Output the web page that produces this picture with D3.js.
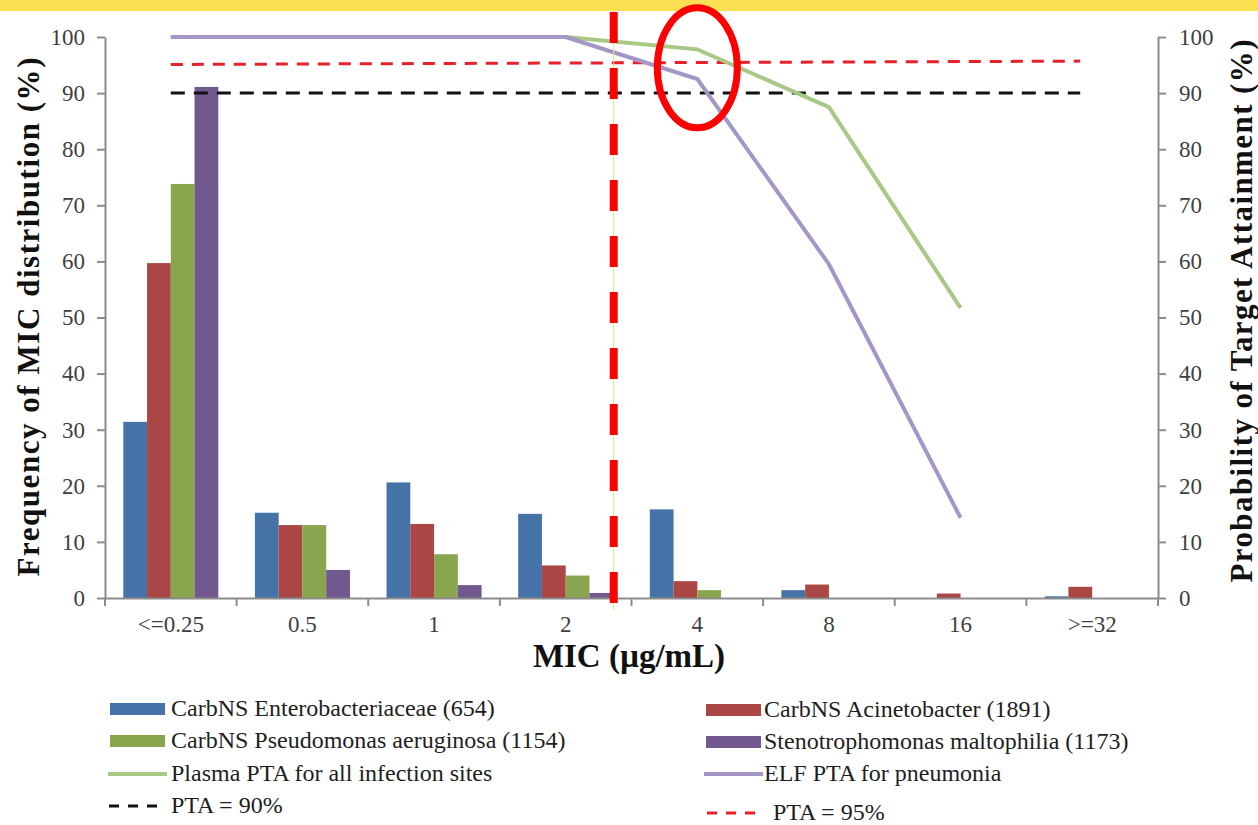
<!DOCTYPE html>
<html>
<head>
<meta charset="utf-8">
<script src="https://cdn.jsdelivr.net/npm/d3@7"></script>
<style>
  body { margin: 0; background: #fff; }
  svg { display: block; font-family: "Liberation Serif", "Times New Roman", serif; }
</style>
</head>
<body>
<svg id="chart" width="1258" height="825"></svg>
<script>
const categories = ["<=0.25", "0.5", "1", "2", "4", "8", "16", ">=32"];
const enterobacteriaceae = [31.4, 15.2, 20.6, 15.0, 15.8, 1.4, 0, 0.3];
const acinetobacter = [59.7, 13.0, 13.2, 5.8, 3.0, 2.4, 0.8, 2.0];
const pseudomonas = [73.8, 13.0, 7.8, 4.0, 1.4, 0, 0, 0];
const stenotrophomonas = [91.1, 5.0, 2.3, 0.9, 0, 0, 0, 0];
// PTA curves stop at 16
const plasmaPTA = [100, 100, 100, 100, 97.8, 87.5, 51.7];
const elfPTA = [100, 100, 100, 100, 92.5, 59.5, 14.3];
const pta90 = [90, 90];
const pta95 = [95.1, 95.7];
const yTicks = [0, 10, 20, 30, 40, 50, 60, 70, 80, 90, 100];

const barSeries = [
  { name: "CarbNS Enterobacteriaceae (654)", values: enterobacteriaceae, color: "#4572A7" },
  { name: "CarbNS Acinetobacter (1891)", values: acinetobacter, color: "#AA4643" },
  { name: "CarbNS Pseudomonas aeruginosa (1154)", values: pseudomonas, color: "#89A54E" },
  { name: "Stenotrophomonas maltophilia (1173)", values: stenotrophomonas, color: "#71588F" }
];

const svg = d3.select("#chart");
const plotLeft = 105, plotRight = 1158, plotTop = 37, plotBottom = 598;
const serif = "Liberation Serif, Times New Roman, serif";

// yellow strip along the top
svg.append("rect").attr("x", 0).attr("y", 0).attr("width", 1258).attr("height", 11).attr("fill", "#FBE052");

const x = d3.scaleBand().domain(categories).range([plotLeft, plotRight]).paddingInner(0).paddingOuter(0);
const xs = d3.scaleBand().domain(d3.range(barSeries.length)).range([0, x.bandwidth()]).paddingOuter(0.77).paddingInner(0);
const y = d3.scaleLinear().domain([0, 100]).range([plotBottom, plotTop]);
const cx = c => x(c) + x.bandwidth() / 2;

// bars
barSeries.forEach((s, i) => {
  svg.append("g").selectAll("rect")
    .data(s.values)
    .join("rect")
    .attr("x", (d, j) => x(categories[j]) + xs(i))
    .attr("width", xs.bandwidth())
    .attr("y", d => y(d))
    .attr("height", d => plotBottom - y(d))
    .attr("fill", s.color);
});

// axes
const axisColor = "#8C8C8C";
const tickColor = "#3F3F3F";
const gl = svg.append("g").attr("transform", `translate(${plotLeft},0)`)
  .call(d3.axisLeft(y).tickValues(yTicks).tickSize(8).tickSizeOuter(0).tickPadding(12));
const gr = svg.append("g").attr("transform", `translate(${plotRight},0)`)
  .call(d3.axisRight(y).tickValues(yTicks).tickSize(8).tickSizeOuter(0).tickPadding(13));
const gx = svg.append("g").attr("transform", `translate(0,${plotBottom})`)
  .call(d3.axisBottom(x).tickSize(0).tickPadding(18));
gx.selectAll(".tick line").remove();
gx.append("g").selectAll("line")
  .data(categories.concat(["end"]))
  .join("line")
  .attr("x1", (d, i) => i < categories.length ? x(d) : plotRight)
  .attr("x2", (d, i) => i < categories.length ? x(d) : plotRight)
  .attr("y1", 0).attr("y2", 8)
  .attr("stroke", axisColor).attr("stroke-width", 2);
[gl, gr, gx].forEach(g => {
  g.select(".domain").attr("stroke", axisColor).attr("stroke-width", 2);
  g.selectAll(".tick line").attr("stroke", axisColor).attr("stroke-width", 2);
  g.selectAll("text").attr("font-family", serif).attr("font-size", 23).attr("fill", tickColor);
});
gr.selectAll(".tick text").attr("text-anchor", "start");

// threshold lines
const thrX0 = cx(categories[0]);
const thrX1 = cx(categories[7]) - 12;
const thrLine = d3.line().x((d, i) => i === 0 ? thrX0 : thrX1).y(d => y(d));
svg.append("path").datum(pta95).attr("d", thrLine)
  .attr("fill", "none").attr("stroke", "#E8202A").attr("stroke-width", 3).attr("stroke-dasharray", "12,9");
svg.append("path").datum(pta90).attr("d", thrLine)
  .attr("fill", "none").attr("stroke", "#111").attr("stroke-width", 3).attr("stroke-dasharray", "14,9");

// PTA curves
const curve = d3.line().x((d, i) => cx(categories[i])).y(d => y(d));
svg.append("path").datum(plasmaPTA).attr("d", curve)
  .attr("fill", "none").attr("stroke", "#A8C886").attr("stroke-width", 4);
svg.append("path").datum(elfPTA).attr("d", curve)
  .attr("fill", "none").attr("stroke", "#A496C6").attr("stroke-width", 4);

// breakpoint marker
const bpX = x(categories[3]) + 0.865 * x.step();
svg.append("line").attr("x1", bpX).attr("x2", bpX).attr("y1", 11).attr("y2", 610)
  .attr("stroke", "#F6DC7E").attr("stroke-width", 1);
svg.append("line").attr("x1", bpX).attr("x2", bpX).attr("y1", 12).attr("y2", 605)
  .attr("stroke", "#FF0000").attr("stroke-width", 8).attr("stroke-dasharray", "31,25");

// highlight ellipse
svg.append("ellipse").attr("cx", cx(categories[4])).attr("cy", y(94.5))
  .attr("rx", 40).attr("ry", 60)
  .attr("fill", "none").attr("stroke", "#FF0000").attr("stroke-width", 7);

// axis titles
svg.append("text").attr("transform", "translate(39,317) rotate(-90)")
  .attr("text-anchor", "middle").attr("font-weight", "bold").attr("font-size", 31).attr("fill", "#111")
  .attr("textLength", 519).attr("lengthAdjust", "spacing")
  .text("Frequency of MIC distribution (%)");
svg.append("text").attr("transform", "translate(1252,311) rotate(-90)")
  .attr("text-anchor", "middle").attr("font-weight", "bold").attr("font-size", 31).attr("fill", "#111")
  .attr("textLength", 543).attr("lengthAdjust", "spacing")
  .text("Probability of Target Attainment (%)");
svg.append("text").attr("x", 629).attr("y", 667)
  .attr("text-anchor", "middle").attr("font-weight", "bold").attr("font-size", 33).attr("fill", "#111")
  .text("MIC (µg/mL)");

// legend
const legend = [
  { name: barSeries[0].name, type: "bar", color: barSeries[0].color, x: 110, tx: 171, y: 709 },
  { name: barSeries[1].name, type: "bar", color: barSeries[1].color, x: 706, tx: 764, y: 710 },
  { name: barSeries[2].name, type: "bar", color: barSeries[2].color, x: 110, tx: 171, y: 741 },
  { name: barSeries[3].name, type: "bar", color: barSeries[3].color, x: 706, tx: 764, y: 742 },
  { name: "Plasma PTA for all infection sites", type: "line", color: "#A8C886", x: 110, tx: 171, y: 774 },
  { name: "ELF PTA for pneumonia", type: "line", color: "#A496C6", x: 706, tx: 764, y: 774 },
  { name: "PTA = 90%", type: "dash", color: "#111", x: 110, tx: 171, y: 806 },
  { name: "PTA = 95%", type: "dash", color: "#E8202A", x: 708, tx: 773, y: 813 }
];
const lg = svg.append("g").selectAll("g").data(legend).join("g");
lg.filter(d => d.type === "bar").append("rect")
  .attr("x", d => d.x).attr("y", d => d.y - 6).attr("width", 55).attr("height", 12).attr("fill", d => d.color);
lg.filter(d => d.type === "line").append("line")
  .attr("x1", d => d.x - 2).attr("x2", d => d.x + 57).attr("y1", d => d.y).attr("y2", d => d.y)
  .attr("stroke", d => d.color).attr("stroke-width", 4);
lg.filter(d => d.type === "dash").append("line")
  .attr("x1", d => d.x - 1).attr("x2", d => d.x + 54).attr("y1", d => d.y).attr("y2", d => d.y)
  .attr("stroke", d => d.color).attr("stroke-width", 3).attr("stroke-dasharray", "10,9");
lg.append("text").attr("x", d => d.tx).attr("y", d => d.y + 7)
  .attr("font-size", 24).attr("fill", "#1E1E1E").text(d => d.name);
</script>
</body>
</html>
